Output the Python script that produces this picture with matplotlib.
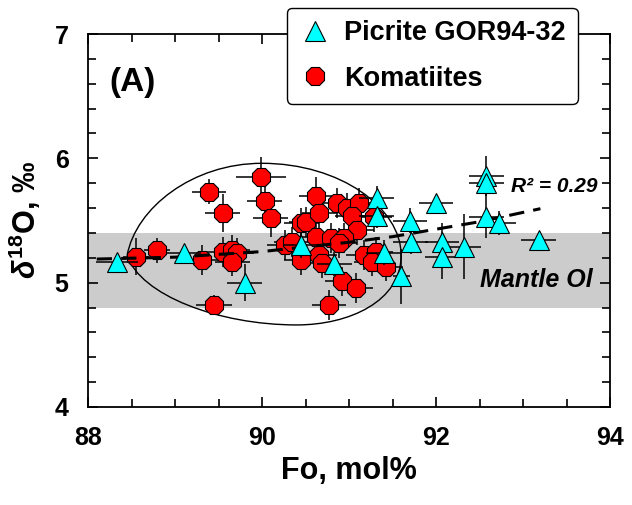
import matplotlib
matplotlib.use("Agg")
import numpy as np
from matplotlib import pyplot as plt
from matplotlib.path import Path
from matplotlib.patches import PathPatch
from matplotlib.ticker import MultipleLocator

# Picrite GOR94-32 (triangles)
pic_fo = [88.33, 89.10, 89.80, 90.45, 90.83, 91.32, 91.32, 91.40, 91.60, 91.70,
          91.71, 92.00, 92.07, 92.07, 92.32, 92.58, 92.58, 92.58, 92.72, 93.18]
pic_d18o = [5.17, 5.24, 5.00, 5.30, 5.15, 5.68, 5.54, 5.24, 5.05, 5.50,
            5.33, 5.64, 5.33, 5.21, 5.29, 5.86, 5.80, 5.53, 5.48, 5.34]
pic_xerr = [0.24, 0.2, 0.2, 0.2, 0.2, 0.2, 0.2, 0.2, 0.1, 0.2,
            0.2, 0.19, 0.2, 0.2, 0.2, 0.2, 0.2, 0.2, 0.2, 0.2]
pic_yerr = [0.03, 0.05, 0.15, 0.1, 0.1, 0.1, 0.1, 0.1, 0.22, 0.1,
            0.1, 0.05, 0.15, 0.18, 0.26, 0.16, 0.1, 0.17, 0.1, 0.03]

# Komatiites (red octagons)
kom_fo = [88.55, 88.79, 89.31, 89.39, 89.55, 89.45, 89.55, 89.66, 89.71, 89.66,
          89.99, 90.03, 90.10, 90.26, 90.34, 90.45, 90.51, 90.62, 90.66, 90.62,
          90.79, 90.45, 90.66, 90.69, 90.77, 90.86, 90.98, 91.12, 91.04, 91.09,
          90.94, 90.89, 91.17, 91.31, 91.26, 91.42, 90.92, 91.08, 91.29]
kom_d18o = [5.21, 5.26, 5.18, 5.73, 5.56, 4.82, 5.25, 5.26, 5.24, 5.17,
            5.85, 5.66, 5.52, 5.30, 5.33, 5.48, 5.49, 5.70, 5.56, 5.37,
            5.36, 5.18, 5.22, 5.16, 4.82, 5.64, 5.60, 5.64, 5.54, 5.42,
            5.36, 5.32, 5.22, 5.25, 5.17, 5.13, 5.01, 4.96, 5.53]
kom_xerr = [0.15, 0.15, 0.2, 0.2, 0.2, 0.21, 0.2, 0.2, 0.2, 0.2,
            0.29, 0.2, 0.2, 0.2, 0.2, 0.2, 0.2, 0.2, 0.2, 0.2,
            0.2, 0.2, 0.2, 0.2, 0.2, 0.2, 0.2, 0.2, 0.2, 0.2,
            0.2, 0.2, 0.2, 0.2, 0.2, 0.2, 0.2, 0.2, 0.2]
kom_yerr = [0.15, 0.1, 0.12, 0.1, 0.15, 0.08, 0.12, 0.12, 0.12, 0.12,
            0.16, 0.15, 0.15, 0.12, 0.12, 0.12, 0.12, 0.15, 0.12, 0.12,
            0.12, 0.12, 0.12, 0.12, 0.12, 0.12, 0.12, 0.12, 0.12, 0.12,
            0.12, 0.12, 0.12, 0.12, 0.12, 0.12, 0.12, 0.12, 0.12]

# trend line
fit_x = [88.1, 89.0, 90.0, 91.0, 91.5, 92.0, 92.5, 93.2]
fit_y = [5.19, 5.205, 5.25, 5.325, 5.37, 5.43, 5.49, 5.595]

# komatiite field outline (bezier control points)
egg_x = [88.45, 88.55, 89.2, 90.0, 90.9, 91.6, 91.6, 91.6, 91.0, 90.4, 89.5, 88.6, 88.45]
egg_y = [5.22, 5.6, 5.96, 5.96, 5.96, 5.6, 5.22, 4.85, 4.66, 4.66, 4.66, 4.9, 5.22]

mantle_lo, mantle_hi = 4.8, 5.4

plt.rcParams['font.family'] = ['Liberation Sans', 'DejaVu Sans']
plt.rcParams['font.weight'] = 'bold'
plt.rcParams['mathtext.fontset'] = 'custom'
plt.rcParams['mathtext.rm'] = 'Liberation Sans:bold'
plt.rcParams['mathtext.it'] = 'Liberation Sans:italic'
plt.rcParams['mathtext.bf'] = 'Liberation Sans:bold'

fig = plt.figure(figsize=(6.32, 5.05), dpi=100)
ax = fig.add_axes([88/632, 98/505, 522/632, 373/505])

ax.axhspan(mantle_lo, mantle_hi, color='#cccccc', lw=0, zorder=0)

codes = [Path.MOVETO] + [Path.CURVE4] * (len(egg_x) - 1)
egg = PathPatch(Path(np.column_stack([egg_x, egg_y]), codes), fc='none', ec='black', lw=1.0, zorder=1)
ax.add_patch(egg)

ax.errorbar(kom_fo, kom_d18o, xerr=kom_xerr, yerr=kom_yerr, fmt='none', ecolor='black', elinewidth=1.1, zorder=2)
ax.plot(kom_fo, kom_d18o, ls='none', marker='8', ms=14, mfc='red', mec='black', mew=0.8, zorder=3,
        label='Komatiites')

ax.plot(fit_x, fit_y, color='black', lw=2.2, ls=(0, (5, 3)), zorder=4)

ax.errorbar(pic_fo, pic_d18o, xerr=pic_xerr, yerr=pic_yerr, fmt='none', ecolor='black', elinewidth=1.1, zorder=5)
ax.plot(pic_fo, pic_d18o, ls='none', marker='^', ms=14, mfc='cyan', mec='black', mew=0.8, zorder=6,
        label='Picrite GOR94-32')

ax.text(88.25, 6.61, '(A)', fontsize=24, fontweight='bold', ha='left', va='center')
ax.text(92.86, 5.77, 'R² = 0.29', fontsize=15, fontweight='bold', style='italic', ha='left', va='center')
ax.text(93.8, 5.02, 'Mantle Ol', fontsize=18, fontweight='bold', style='italic', ha='right', va='center')

ax.set_xlim(88, 94)
ax.set_ylim(4, 7)
ax.xaxis.set_major_locator(MultipleLocator(2))
ax.xaxis.set_minor_locator(MultipleLocator(0.5))
ax.yaxis.set_major_locator(MultipleLocator(1))
ax.yaxis.set_minor_locator(MultipleLocator(0.2))
ax.tick_params(which='both', direction='in', top=True, right=True, width=1.2, labelsize=18, pad=14)
ax.tick_params(which='major', length=7)
ax.tick_params(which='minor', length=6)
for s in ax.spines.values():
    s.set_linewidth(1.3)

ax.set_xlabel('Fo, mol%', fontsize=22, fontweight='bold', labelpad=4)
ax.set_ylabel(r'$\delta^{18}$O, ‰', fontsize=22, fontweight='bold', labelpad=8)

h, l = ax.get_legend_handles_labels()
leg = fig.legend(h[::-1], l[::-1], loc='upper left', bbox_to_anchor=(287/632, 1 - 8/505), fontsize=19.5,
                 frameon=True, fancybox=True, framealpha=1, edgecolor='black', borderaxespad=0,
                 handletextpad=0.45, labelspacing=0.72, borderpad=0.45, handlelength=1.2)
leg.get_frame().set_linewidth(1.0)

fig.savefig('out.png', dpi=100)
